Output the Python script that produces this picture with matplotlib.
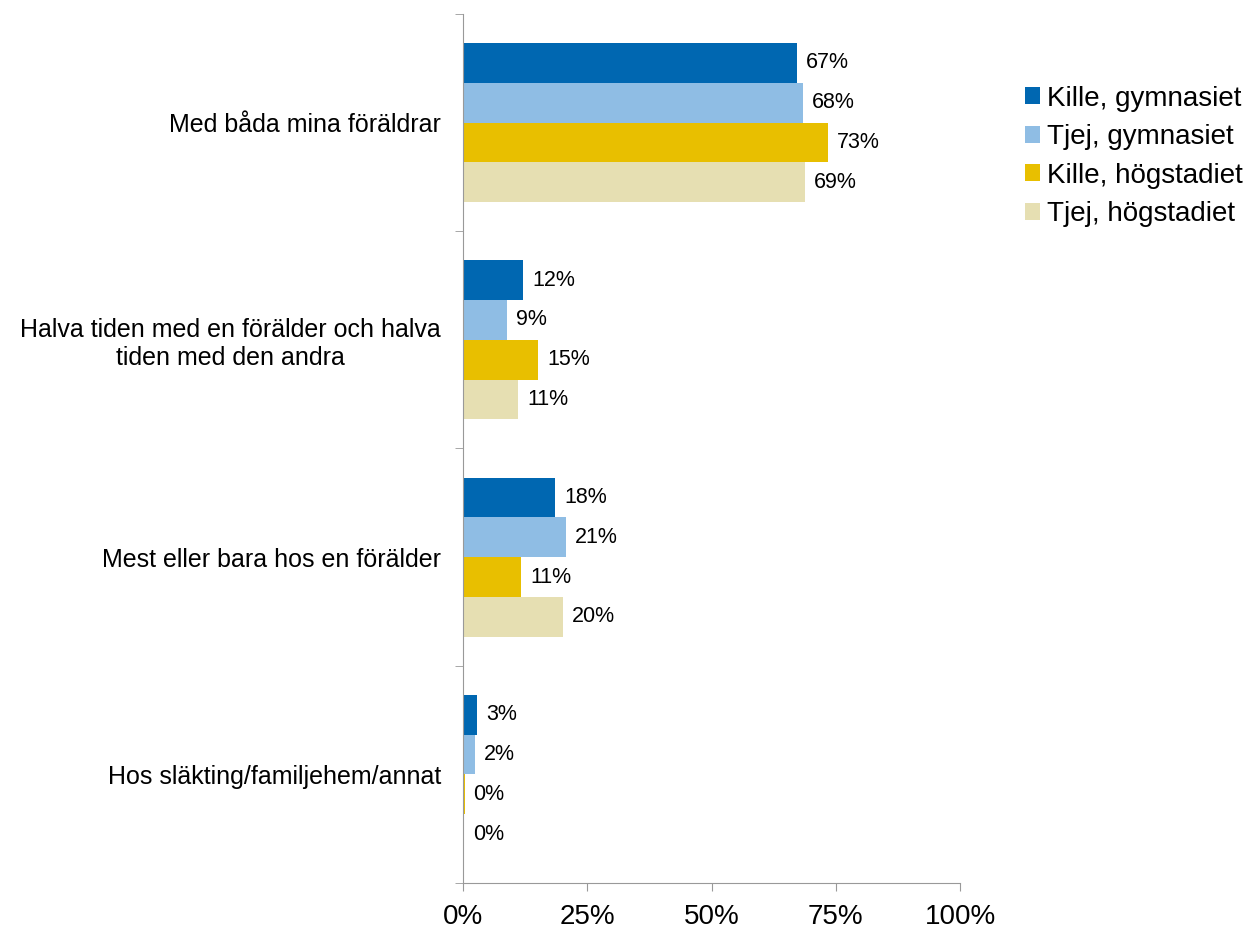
import numpy as np
import matplotlib.pyplot as plt
from matplotlib.ticker import FixedLocator

plt.rcParams['font.family'] = ['Liberation Sans', 'DejaVu Sans']

categories = ["Med båda mina föräldrar",
              "Halva tiden med en förälder och halva\ntiden med den andra",
              "Mest eller bara hos en förälder",
              "Hos släkting/familjehem/annat"]
series = ["Kille, gymnasiet", "Tjej, gymnasiet", "Kille, högstadiet", "Tjej, högstadiet"]
values = [
    [67.2, 12.1, 18.5, 2.8],
    [68.4, 8.9, 20.7, 2.4],
    [73.4, 15.1, 11.7, 0.3],
    [68.8, 11.1, 20.1, 0.2],
]
labels = [
    ["67%", "12%", "18%", "3%"],
    ["68%", "9%", "21%", "2%"],
    ["73%", "15%", "11%", "0%"],
    ["69%", "11%", "20%", "0%"],
]
colors = ["#0067B1", "#8FBDE4", "#E8BF00", "#E6DFB2"]

fig = plt.figure(figsize=(12.55, 9.3), dpi=100)
ax = fig.add_axes([0.369, 0.0505, 0.396, 0.9345])

h = 0.183
y = np.arange(len(categories))
for i, s in enumerate(series):
    pos = y + (i - 1.5) * h
    bars = ax.barh(pos, values[i], height=h, color=colors[i], label=s)
    for b, lab in zip(bars, labels[i]):
        ax.text(b.get_width() + 1.8, b.get_y() + h / 2, lab,
                va='center', ha='left', fontsize=15.5)

ax.set_xlim(0, 100)
ax.set_ylim(3.5, -0.5)
ax.set_xticks([0, 25, 50, 75, 100])
ax.set_xticklabels(["0%", "25%", "50%", "75%", "100%"], fontsize=20)
ax.set_yticks(y)
ax.set_yticklabels(categories, fontsize=18, ha='right', multialignment='center')
ax.tick_params(axis='y', length=0, pad=16)
ax.yaxis.set_minor_locator(FixedLocator([-0.5, 0.5, 1.5, 2.5, 3.5]))
ax.tick_params(axis='y', which='minor', length=6, color='#999999')
ax.tick_params(axis='x', length=6, color='#999999', pad=9)

for side in ['top', 'right']:
    ax.spines[side].set_visible(False)
for side in ['left', 'bottom']:
    ax.spines[side].set_color('#999999')

handles, lbls = ax.get_legend_handles_labels()
fig.legend(handles, lbls, loc='upper left', bbox_to_anchor=(0.808, 0.92),
           frameon=False, fontsize=20, handlelength=0.55, handleheight=0.55,
           handletextpad=0.25, labelspacing=0.45, borderaxespad=0)

fig.savefig("out.png", dpi=100)
